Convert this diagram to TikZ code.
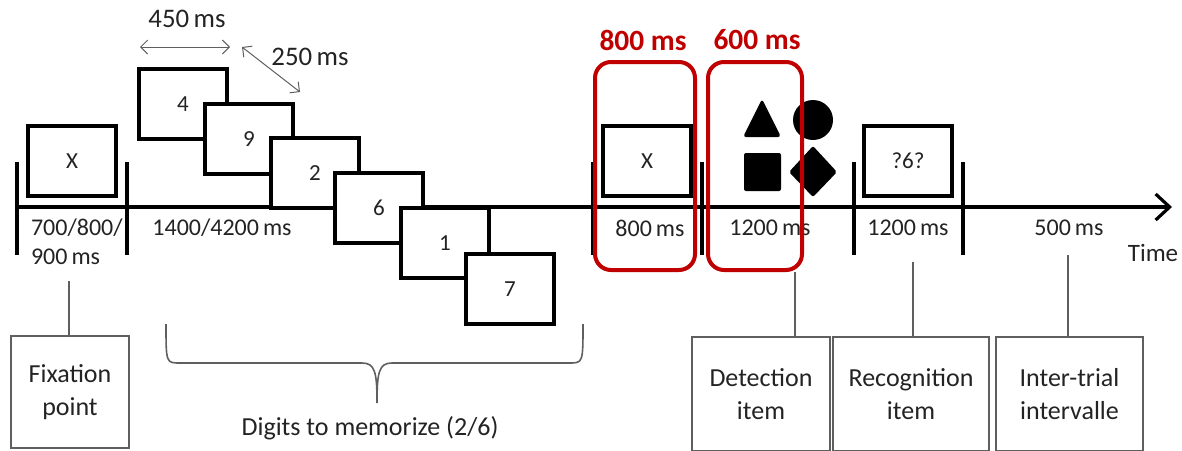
\documentclass[tikz,border=0pt]{standalone}
\usepackage{fontspec}
\setmainfont{Carlito}
\usetikzlibrary{arrows.meta,positioning}
\definecolor{slidered}{RGB}{192,0,0}
\definecolor{linegray}{RGB}{95,95,95}
\definecolor{textgray}{RGB}{35,35,35}
\begin{document}
\begin{tikzpicture}[x=0.5pt,y=-0.5pt,
    screen/.style={draw, line width=1.7pt, fill=white, minimum width=44pt, minimum height=35pt,
        inner sep=0pt, font=\fontsize{11.5}{13}\selectfont, text=textgray},
    tick/.style={line width=1.6pt},
    timelab/.style={font=\fontsize{12}{14.5}\selectfont, text=textgray},
    redbox/.style={draw=slidered, line width=2pt, rounded corners=8pt, inner sep=0pt},
    redlab/.style={text=slidered, font=\fontsize{14.7}{16}\selectfont\bfseries},
    infobox/.style={draw=linegray, line width=0.7pt, align=center, inner sep=0pt,
        minimum height=57pt, font=\fontsize{13}{16.5}\selectfont, text=textgray},
    link/.style={draw=linegray, line width=0.8pt},
    span/.style={{Straight Barb[length=3.5pt,width=7pt]}-{Straight Barb[length=3.5pt,width=7pt]},
        line width=0.5pt, draw=linegray}
]
    \useasboundingbox (0,0) rectangle (1182,450);
    \clip (0,0) rectangle (1182,450);

    % Time axis and tick marks
    \draw[line width=1.6pt, -{Straight Barb[length=7pt,width=13pt]}] (17,207) -- (1172,207);
    \foreach \tx in {17,127,593,702,854,963}
        \draw[tick] (\tx,162) -- (\tx,255);
    \node[timelab, font=\fontsize{12.5}{14}\selectfont] (time) at (1153,253) {Time};

    % Fixation screen
    \node[screen] (fix) at (72,161) {X};
    \node[timelab, anchor=west, align=left] (fixdur) at (24,242) {700/800/\\900\,ms};

    % Digit screens, each one on top of the previous one
    \foreach \d/\px/\py [count=\i] in {4/183/104, 9/249/139, 2/315/173, 6/379/208, 1/445/243, 7/510/289}
        \node[screen] (dig\i) at (\px,\py) {\d};
    \node[timelab] (digdur) at (222,228) {1400/4200\,ms};

    % Timing of one digit
    \coordinate (sa) at (140,47);
    \coordinate (sb) at (230,47);
    \coordinate (sc) at (242,47);
    \coordinate (sd) at (300,92);
    \draw[span] (sa) -- (sb);
    \draw[span] (sc) -- (sd);
    \node[timelab, font=\fontsize{13.4}{15}\selectfont] (ton) at (187,19) {450\,ms};
    \node[timelab, font=\fontsize{13.4}{15}\selectfont] (toff) at (310,57) {250\,ms};

    % Detection part
    \node[screen] (det) at (647,161) {X};
    \node[timelab] (detdur) at (650,228) {800\,ms};
    \fill[rounded corners=1.5pt] (762,99) -- (781,137) -- (743,137) -- cycle;
    \fill (813,120) circle (10pt);
    \fill[rounded corners=1pt] (744,153) rectangle (781,191);
    \fill[rounded corners=1pt] (813,146) -- (837,172) -- (813,197) -- (789,172) -- cycle;
    \node[timelab] (shapedur) at (770,228) {1200\,ms};

    % Recognition part
    \node[screen] (rec) at (908,161) {?6?};
    \node[timelab] (recdur) at (908,228) {1200\,ms};
    \node[timelab] (itidur) at (1069,228) {500\,ms};

    % Red windows
    \node[redbox, minimum width=50pt, minimum height=104pt] (winA) at (645,166) {};
    \node[redbox, minimum width=47pt, minimum height=104pt] (winB) at (755,166) {};
    \node[redlab] (labA) at (643,40) {800 ms};
    \node[redlab] (labB) at (757,40) {600 ms};

    % Brace under the digits
    \draw[linegray, line width=0.8pt] (166,324) .. controls (166,363) and (166,363) .. (180,363)
        -- (362,363) .. controls (375,363) and (377,372) .. (377,403)
        .. controls (377,372) and (379,363) .. (392,363)
        -- (569,363) .. controls (583,363) and (583,363) .. (583,324);
    \node[infobox, draw=none] (digits) at (370,428) {Digits to memorize (2/6)};

    % Boxes at the bottom
    \node[infobox, minimum width=59pt, minimum height=56pt] (fixbox) at (70,392) {Fixation\\point};
    \node[infobox, minimum width=69pt] (detbox) at (761,394) {Detection\\item};
    \node[infobox, minimum width=78pt] (recbox) at (911,394) {Recognition\\item};
    \node[infobox, minimum width=73.5pt] (itibox) at (1069.5,394) {Inter-trial\\intervalle};

    % Links to the bottom boxes
    \coordinate (fixtop) at (69,281);
    \coordinate (dettop) at (795,272);
    \coordinate (rectop) at (913,262);
    \coordinate (ititop) at (1068,255);
    \draw[link] (fixtop) -- (fixtop |- fixbox.north);
    \draw[link] (dettop) -- (dettop |- detbox.north);
    \draw[link] (rectop) -- (rectop |- recbox.north);
    \draw[link] (ititop) -- (ititop |- itibox.north);
\end{tikzpicture}
\end{document}
